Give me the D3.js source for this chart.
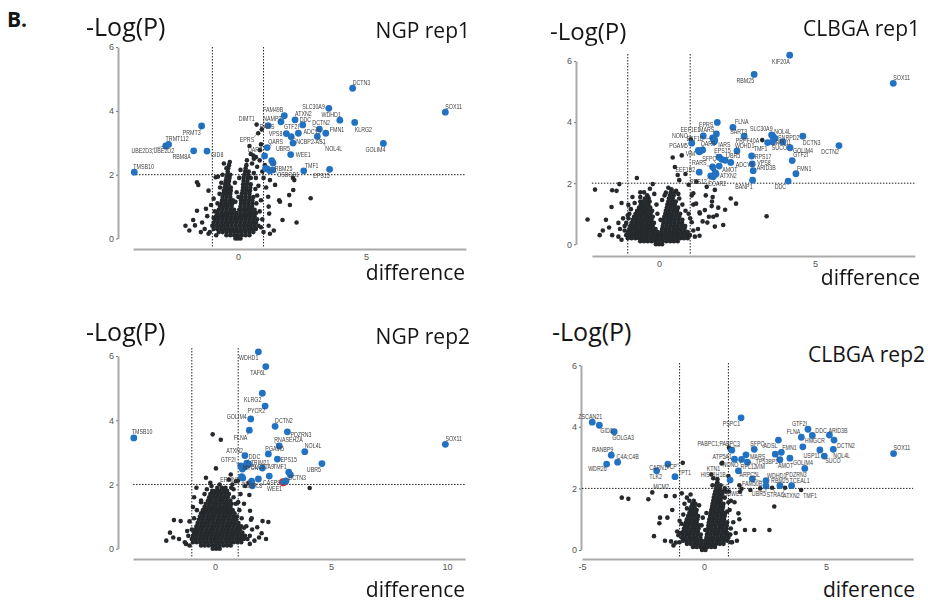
<!DOCTYPE html>
<html>
<head>
<meta charset="utf-8">
<script src="https://cdn.jsdelivr.net/npm/d3@7"></script>
<style>
    body { margin: 0; background: #fff; }
    svg { display: block; }
    .big { font-family: "Open Sans", "Noto Sans", sans-serif; fill: #151515; }
    .tick text { font-family: "Liberation Sans", Arial, sans-serif; font-size: 9px; fill: #555; }
    .gene { font-family: "Liberation Sans", Arial, sans-serif; font-size: 6.8px; fill: #3c3c3c; }
    .labels { opacity: 0.99; }
</style>
</head>
<body>
<svg id="fig" width="928" height="603"></svg>
<script>
// Cut-offs used in every panel.
const diffCutoffs = [-1, 1];
const logPCutoff = 2;
const yTicks = [0, 2, 4, 6];

// ---------- NGP rep1 ----------
const ngp1XTicks = [0, 5];
// [gene, difference, -log(P)]
const ngp1Blue = [
    ["TMSB10", -4.05, 2.08], ["UBE2D3;UBE2D2", -2.82, 2.90], ["TRMT112", -2.71, 2.95],
    ["PRMT3", -1.42, 3.53], ["RBM8A", -1.73, 2.75], ["GID8", -1.21, 2.74],
    ["DCTN3", 4.48, 4.71], ["SOX11", 8.10, 3.96], ["SLC30A9", 3.55, 4.08],
    ["WDHD1", 3.98, 3.71], ["KLRG2", 4.56, 3.64], ["FAM49B", 1.81, 3.85],
    ["ATXN2", 2.23, 3.72], ["DDC", 2.53, 3.56], ["GTF2I", 1.68, 3.66],
    ["DCTN2", 3.18, 3.43], ["FMN1", 3.43, 3.30], ["ADCY9", 2.36, 3.30],
    ["VPS8", 1.89, 3.29], ["NCBP2-AS1", 2.08, 3.19], ["NOL4L", 3.10, 3.20],
    ["QARS", 1.14, 2.85], ["UBR5", 2.15, 2.99], ["WEE1", 2.06, 2.63],
    ["DARS", 1.04, 2.59], ["GOLIM4", 5.68, 2.98], ["TMF1", 2.57, 2.12],
    ["EPS15", 3.58, 2.17], ["RBM25", 1.32, 2.44], ["OSBOB1", 1.14, 2.18],
    ["NAMPT", 1.18, 3.54],
    ["", 1.37, 2.37], ["", 1.25, 2.12], ["", 1.36, 2.15], ["", 1.08, 2.20]
];
const ngp1BlackNamed = [["DIMT1", 0.73, 3.57], ["RARS", 0.93, 3.42], ["EPRS", 0.79, 3.30]];
// Dense centre of the cloud, row by row: [-log(P), [differences]]
const ngp1CoreRows = [
    [0.0, [-0.1, 0, 0.1]],
    [0.1, [-0.45, -0.3, -0.15, 0, 0.15, 0.3, 0.45]],
    [0.2, [-0.75, -0.6, -0.45, -0.3, -0.15, 0, 0.15, 0.3, 0.45, 0.6]],
    [0.3, [-0.95, -0.8, -0.65, -0.5, -0.35, -0.2, -0.05, 0.1, 0.25, 0.4, 0.55, 0.7]],
    [0.4, [-1.0, -0.85, -0.7, -0.55, -0.4, -0.25, -0.1, 0.05, 0.2, 0.35, 0.5, 0.65, 0.8]],
    [0.5, [-0.95, -0.8, -0.65, -0.5, -0.35, -0.2, -0.05, 0.1, 0.25, 0.4, 0.55, 0.7]],
    [0.6, [-0.9, -0.75, -0.6, -0.45, -0.3, -0.15, 0, 0.15, 0.3, 0.45, 0.6, 0.75]],
    [0.7, [-0.85, -0.7, -0.55, -0.4, -0.25, -0.1, 0.05, 0.2, 0.35, 0.5, 0.65]],
    [0.8, [-0.8, -0.65, -0.5, -0.35, -0.2, -0.05, 0.1, 0.25, 0.4, 0.55, 0.7]],
    [0.9, [-0.75, -0.6, -0.45, -0.3, -0.15, 0.05, 0.2, 0.35, 0.5, 0.65]],
    [1.0, [-0.7, -0.55, -0.4, -0.25, 0.1, 0.25, 0.4, 0.55]],
    [1.1, [-0.65, -0.5, -0.35, -0.22, 0.12, 0.27, 0.42, 0.57]],
    [1.2, [-0.62, -0.48, -0.33, -0.2, 0.12, 0.27, 0.42, 0.56]],
    [1.3, [-0.6, -0.45, -0.3, 0.15, 0.3, 0.45, 0.6]],
    [1.4, [-0.57, -0.43, -0.3, 0.15, 0.3, 0.45]],
    [1.5, [-0.55, -0.42, -0.28, 0.18, 0.32, 0.47]],
    [1.6, [-0.52, -0.4, -0.28, 0.2, 0.33, 0.48]],
    [1.7, [-0.5, -0.37, 0.2, 0.35, 0.5]],
    [1.8, [-0.48, -0.35, 0.22, 0.37]],
    [1.9, [-0.45, -0.33, 0.22, 0.38, 0.5]],
    [2.0, [-0.42, -0.3, 0.25, 0.4]],
    [2.1, [-0.4, 0.28, 0.42]],
    [2.2, [-0.38, 0.3]],
    [2.3, [-0.35, 0.33]],
    [2.45, [0.35]]
];
const ngp1Black = [
    [-0.45, 2.2], [-0.32, 2.4], [0.55, 2.35], [0.5, 2.65], [0.75, 2.25], [0.62, 2.5], [0.85, 2.45],
    [0.6, 2.6], [0.7, 2.55], [0.86, 2.77], [0.9, 2.95], [0.45, 2.9], [0.7, 1.9], [0.8, 1.65], [0.75, 1.35],
    [-1.1, 0.2], [-0.95, 0.65], [-0.9, 0.85], [-0.8, 1.1], [-0.72, 1.4], [-0.65, 1.75], [-0.6, 2.0], [-0.55, 2.35], [-0.1, 1.15], [-0.05, 1.45], [0.02, 1.3], [-0.12, 1.75], [0.68, 1.55], [0.72, 1.1], [0.85, 0.85], [0.9, 0.35], [0.62, 2.05], [0.05, 1.9], [0.1, 2.15],
    [-1.6, 1.76], [-1.55, 1.68], [-1.15, 1.5], [-0.87, 1.92], [-0.78, 1.94], [-1.25, 0.93], [-1.6, 0.87], [-1.75, 0.58], [-1.68, 0.41], [-1.3, 0.3], [-1.45, 0.2], [-1.9, 0.25], [-2.05, 0.4], [-1.2, 0.7], [-0.95, 1.25], [-1.05, 1.05], [-1.4, 0.5], [-0.7, 1.6], [-1.15, 0.15], [-0.85, 0.1],
    [1.18, 1.31], [1.2, 1.0], [1.22, 0.78], [1.64, 1.15], [1.74, 0.58], [2.0, 1.36], [2.03, 1.05], [2.29, 0.5], [2.84, 1.26], [2.2, 1.83], [2.16, 1.52], [1.25, 1.83], [1.45, 1.68], [1.61, 1.2], [1.2, 0.4], [1.4, 0.25], [1.25, 0.15], [1.0, 1.9], [1.1, 1.6], [1.05, 2.3], [0.95, 2.1], [2.15, 1.9], [0.95, 0.6], [1.0, 0.2], [0.9, 1.2]
];

// ---------- CLBGA rep1 ----------
const clbga1XTicks = [0, 5];
const clbga1Blue = [
    ["KIF20A", 4.19, 6.19], ["RBM25", 3.05, 5.56], ["SOX11", 7.51, 5.27],
    ["EPRS", 1.87, 3.99], ["FLNA", 2.37, 3.83], ["MARS", 1.84, 3.61],
    ["SART3", 2.73, 3.54], ["SLC30A9", 3.61, 3.58], ["NOL4L", 3.66, 3.52],
    ["SNRPD2", 3.72, 3.47], ["RPL11", 3.64, 3.36], ["TMF1", 3.48, 3.33],
    ["SUCO", 3.97, 3.35], ["DCTN3", 4.61, 3.54], ["DCTN2", 5.77, 3.23],
    ["GOLIM4", 4.20, 3.16], ["GTF2I", 4.27, 2.74], ["FMN1", 4.39, 2.31],
    ["DDC", 4.14, 2.07], ["WDHD1", 2.50, 3.06], ["UBR5", 2.12, 2.75],
    ["ADCY9", 2.30, 2.68], ["RPS17", 2.97, 2.89], ["VPS8", 2.99, 2.63],
    ["ARID3B", 3.02, 2.41], ["AMOT", 1.93, 2.56], ["ATXN2", 1.83, 2.30],
    ["BANP1", 3.0, 2.10], ["RARS", 1.72, 2.53], ["EEF1E1", 1.42, 3.55],
    ["EEF1D", 1.72, 3.48], ["PGAM5", 1.05, 3.31], ["VIM", 1.29, 3.03],
    ["QARS", 1.40, 3.09], ["IARS", 1.77, 3.36], ["EPS15", 1.93, 2.85],
    ["SFPQ", 2.01, 2.78], ["EEF1B2", 1.29, 2.36], ["RPS12", 1.66, 2.24],
    ["CCAR2", 1.74, 2.21],
    ["", 1.26, 3.07], ["", 1.33, 3.05], ["", 1.79, 3.41], ["", 1.81, 2.34]
];
const clbga1BlackNamed = [["NONO", 1.02, 3.44], ["PRPF40A", 3.31, 3.41]];
const clbga1CoreRows = [
    [0.0, [-0.1, 0, 0.1]],
    [0.1, [-0.6, -0.48, -0.36, -0.24, -0.12, 0, 0.12, 0.24, 0.36, 0.48, 0.6]],
    [0.2, [-1.0, -0.88, -0.76, -0.64, -0.52, -0.4, -0.28, -0.16, -0.04, 0.08, 0.2, 0.32, 0.44, 0.56, 0.68, 0.8, 0.92]],
    [0.3, [-1.05, -0.93, -0.81, -0.69, -0.57, -0.45, -0.33, -0.21, -0.09, 0.03, 0.15, 0.27, 0.39, 0.51, 0.63, 0.75, 0.87, 0.99]],
    [0.4, [-1.0, -0.88, -0.76, -0.64, -0.52, -0.4, -0.28, -0.16, -0.04, 0.08, 0.2, 0.32, 0.44, 0.56, 0.68, 0.8, 0.92]],
    [0.5, [-0.95, -0.83, -0.71, -0.59, -0.47, -0.35, -0.23, -0.11, 0.1, 0.22, 0.34, 0.46, 0.58, 0.7, 0.82]],
    [0.6, [-0.92, -0.8, -0.68, -0.56, -0.44, -0.32, -0.2, 0.12, 0.24, 0.36, 0.48, 0.6, 0.72, 0.84]],
    [0.7, [-0.88, -0.76, -0.64, -0.52, -0.4, -0.28, -0.16, 0.14, 0.26, 0.38, 0.5, 0.62, 0.74]],
    [0.8, [-0.84, -0.72, -0.6, -0.48, -0.36, -0.24, 0.15, 0.27, 0.39, 0.51, 0.63, 0.75]],
    [0.9, [-0.8, -0.68, -0.56, -0.44, -0.32, -0.2, 0.17, 0.29, 0.41, 0.53, 0.65]],
    [1.0, [-0.75, -0.63, -0.51, -0.39, -0.27, 0.2, 0.32, 0.44, 0.56, 0.68]],
    [1.1, [-0.7, -0.58, -0.46, -0.34, -0.22, 0.22, 0.34, 0.46, 0.58]],
    [1.2, [-0.64, -0.52, -0.4, -0.28, 0.25, 0.37, 0.49, 0.61]],
    [1.3, [-0.58, -0.46, -0.34, 0.27, 0.39, 0.51]],
    [1.4, [-0.52, -0.4, -0.3, 0.3, 0.42, 0.54]],
    [1.5, [-0.45, -0.33, 0.32, 0.44]],
    [1.6, [-0.38, 0.35, 0.47]],
    [1.7, [0.38, 0.5]],
    [1.8, [0.4]]
];
const clbga1Black = [
    [-1.3, 0.25], [-1.5, 0.3], [-1.25, 0.5], [1.15, 0.25], [1.3, 0.28], [1.25, 0.5], [1.1, 0.45], [-1.1, 0.45], [-1.05, 0.7], [1.05, 0.72], [0.95, 1.0], [-0.95, 1.0],
    [-1.2, 0.15], [-1.1, 0.6], [-0.98, 0.85], [-0.9, 1.15], [-0.78, 1.35], [-0.6, 1.55], [-0.48, 1.7], [-0.05, 1.0], [0.05, 0.8], [-0.08, 1.3], [0.1, 1.45], [0.75, 1.3], [0.85, 1.1], [1.0, 0.85], [0.62, 1.65], [0.18, 1.6], [-0.15, 1.65],
    [-2.29, 0.81], [-2.05, 1.79], [-1.5, 1.77], [-1.36, 1.75], [-1.27, 1.97], [-0.71, 2.17], [-0.29, 1.82], [-0.2, 1.97], [0.22, 1.69], [0.44, 2.84], [0.73, 2.91], [0.51, 2.53], [0.6, 2.27], [0.65, 2.1], [0.95, 1.95], [1.05, 1.6], [1.1, 1.3], [1.3, 1.05],
    [1.53, 1.88], [1.72, 1.55], [1.9, 1.2], [2.47, 1.33], [2.12, 1.13], [2.06, 0.63], [1.79, 0.58], [1.6, 0.9], [1.4, 0.75], [1.7, 1.4], [1.5, 1.6], [3.45, 0.92], [2.3, 1.5], [1.85, 0.95],
    [1.19, 1.33], [1.1, 1.67], [1.69, 1.25], [1.47, 1.12], [1.31, 1.01], [1.79, 1.78], [1.74, 0.9], [1.55, 0.71],
    [-1.52, 1.22], [-1.2, 1.35], [-0.98, 1.29], [-1.0, 0.95], [-1.15, 0.85], [-1.7, 0.8], [-1.8, 0.45], [-1.9, 0.3], [-1.6, 0.55], [-1.3, 0.7], [-0.85, 1.55], [-0.6, 1.7],
    [1.75, 2.45], [0.85, 2.3], [1.2, 2.05], [0.65, 1.5], [0.55, 1.75], [0.3, 1.85], [-0.35, 1.55], [-0.6, 1.4]
];

// ---------- NGP rep2 ----------
const ngp2XTicks = [0, 5, 10];
const ngp2Blue = [
    ["TMSB10", -3.5, 3.45], ["WDHD1", 1.87, 6.13], ["TAF6L", 2.19, 5.67],
    ["KLRG2", 2.04, 4.84], ["PYCR2", 2.16, 4.44], ["GOLIM4", 1.54, 4.04],
    ["DCTN2", 2.59, 3.81], ["PDZRN3", 3.12, 3.64], ["FLNA", 1.48, 3.69],
    ["RNASEH2A", 2.77, 3.20], ["NOL4L", 3.87, 3.02], ["SOX11", 9.93, 3.25],
    ["PGAM5", 2.30, 2.95], ["ATXN2", 1.29, 2.90], ["DDC", 1.37, 2.66],
    ["EPS15", 2.69, 2.79], ["UBR5", 4.61, 2.65], ["TRIM21", 1.45, 2.64],
    ["GTF2I", 1.11, 2.58], ["SLC30A9", 1.22, 2.55], ["TMF1", 3.18, 2.38],
    ["DCTN3", 3.25, 2.30], ["MYCN", 2.04, 2.51], ["ERLIN1", 1.15, 2.24],
    ["CASP8", 2.94, 2.07], ["WEE1", 3.06, 2.11], ["OSBPL8", 1.58, 2.10],
    ["", 1.61, 1.96], ["", 1.87, 2.17], ["", 1.3, 2.55], ["", 1.18, 2.48],
    ["", 1.38, 2.6], ["", 2.34, 2.26], ["", 1.2, 2.2]
];
const ngp2Outlined = ["CASP8"];
const ngp2BlackNamed = [];
const ngp2CoreRows = [
    [0.0, [-0.1, 0.05, 0.2]],
    [0.1, [-0.6, -0.44, -0.28, -0.12, 0.04, 0.2, 0.36, 0.52, 0.68]],
    [0.2, [-0.95, -0.79, -0.63, -0.47, -0.31, -0.15, 0.01, 0.17, 0.33, 0.49, 0.65, 0.81, 0.97, 1.13]],
    [0.3, [-1.0, -0.84, -0.68, -0.52, -0.36, -0.2, -0.04, 0.12, 0.28, 0.44, 0.6, 0.76, 0.92, 1.08, 1.24, 1.4]],
    [0.4, [-0.95, -0.79, -0.63, -0.47, -0.31, -0.15, 0.01, 0.17, 0.33, 0.49, 0.65, 0.81, 0.97, 1.13, 1.29]],
    [0.5, [-0.9, -0.74, -0.58, -0.42, -0.26, -0.1, 0.06, 0.22, 0.38, 0.54, 0.7, 0.86, 1.02, 1.18]],
    [0.6, [-0.85, -0.69, -0.53, -0.37, -0.21, -0.05, 0.11, 0.27, 0.43, 0.59, 0.75, 0.91, 1.07]],
    [0.7, [-0.8, -0.64, -0.48, -0.32, -0.16, 0, 0.16, 0.32, 0.48, 0.64, 0.8, 0.96, 1.12]],
    [0.8, [-0.75, -0.59, -0.43, -0.27, -0.11, 0.05, 0.21, 0.37, 0.53, 0.69, 0.85, 1.01]],
    [0.9, [-0.7, -0.54, -0.38, -0.22, -0.06, 0.1, 0.26, 0.42, 0.58, 0.74, 0.9]],
    [1.0, [-0.65, -0.49, -0.33, -0.17, -0.01, 0.15, 0.31, 0.47, 0.63, 0.79, 0.95]],
    [1.1, [-0.6, -0.44, -0.28, -0.12, 0.04, 0.2, 0.36, 0.52, 0.68, 0.84]],
    [1.2, [-0.52, -0.36, -0.2, -0.04, 0.12, 0.28, 0.44, 0.6, 0.76]],
    [1.3, [-0.45, -0.29, -0.13, 0.03, 0.19, 0.35, 0.51, 0.67]],
    [1.4, [-0.4, -0.24, -0.08, 0.08, 0.24, 0.4, 0.56, 0.72]],
    [1.5, [-0.3, -0.14, 0.02, 0.18, 0.34, 0.5, 0.66]],
    [1.6, [-0.25, -0.09, 0.07, 0.23, 0.39, 0.55]],
    [1.7, [-0.2, -0.04, 0.12, 0.28, 0.44, 0.6]],
    [1.8, [-0.12, 0.04, 0.2, 0.36, 0.52]],
    [1.9, [0.1, 0.3, 0.45]],
    [2.0, [0.2]]
];
const ngp2Black = [
    [-0.1, 3.56], [0.25, 3.39], [0.04, 2.5], [0.68, 2.31], [-0.39, 2.21], [-0.2, 2.05], [0.6, 2.15], [0.9, 2.1], [0.75, 2.0], [1.0, 2.12], [0.8, 1.85], [-0.15, 1.95],
    [-1.1, 0.1], [-1.0, 0.6], [-0.9, 0.95], [-0.78, 1.2], [-0.6, 1.45], [-0.45, 1.7], [-0.35, 1.85], [1.25, 0.65], [1.15, 0.95], [1.05, 1.2], [0.9, 1.4], [0.8, 1.6], [0.7, 1.9], [1.5, 0.15],
    [-1.94, 0.5], [-1.77, 0.89], [-1.48, 0.86], [-1.8, 0.35], [-1.55, 0.3], [-1.3, 0.2], [-1.2, 0.55], [-1.1, 0.85], [-0.95, 1.3], [-0.9, 1.6], [-0.8, 1.9], [-0.6, 1.5], [-1.25, 0.15], [-2.1, 0.25], [-1.15, 0.4],
    [4.08, 1.89], [2.3, 0.83], [2.05, 0.86], [1.82, 0.67], [2.01, 0.48], [1.9, 0.35], [1.55, 0.9], [1.51, 1.18], [1.48, 1.67], [1.6, 0.6], [1.7, 0.25], [2.2, 0.3], [1.25, 1.4], [1.1, 1.7], [1.3, 1.95], [1.45, 2.05], [1.0, 1.45], [1.58, 0.95], [1.35, 0.7], [1.5, 0.4]
];

// ---------- CLBGA rep2 ----------
const clbga2XTicks = [-5, 0, 5];
const clbga2Blue = [
    ["ZSCAN21", -4.58, 4.15], ["GID8", -4.29, 4.05], ["GOLGA3", -3.68, 3.84],
    ["RANBP9", -3.80, 3.08], ["C4A;C4B", -3.54, 2.85], ["WDR26", -3.99, 2.79],
    ["TLK2", -1.94, 2.57], ["CAPN1", -1.48, 2.79], ["TPT1", -1.19, 2.38],
    ["PSPC1", 1.52, 4.29], ["GTF2I", 4.26, 3.92], ["DDC", 4.44, 3.72],
    ["ARID3B", 5.14, 3.73], ["FLNA", 3.99, 3.66], ["DCTN2", 5.33, 3.57],
    ["HMGCR", 4.05, 3.35], ["SOX11", 7.77, 3.13], ["SFPQ", 2.06, 3.27],
    ["ADSL", 3.05, 3.57], ["FMN1", 3.17, 3.17], ["USP11", 4.75, 3.25],
    ["NOL4L", 5.30, 3.27], ["SUCO", 4.93, 3.05], ["MARS", 1.72, 3.09],
    ["TP53BP2", 2.92, 3.11], ["AMOT", 3.11, 2.93], ["GOLIM4", 3.52, 2.98],
    ["PDZRN3", 4.13, 2.65], ["WDHD1", 2.54, 2.25], ["RBM25", 3.11, 2.09],
    ["TCEAL1", 3.59, 2.09], ["UBR5", 2.54, 2.08], ["FAM50B", 1.98, 2.31],
    ["RPL12", 1.54, 2.94], ["VIM", 1.78, 2.85], ["NONO", 1.25, 2.95],
    ["ATP5A1", 1.14, 3.24], ["ARPC5L", 1.41, 2.57],
    ["", 1.07, 2.27]
];
const clbga2BlackNamed = [
    ["MCM2", -2.12, 1.87], ["VCP", -0.87, 2.83], ["PABPC1;PABPC3", 1.02, 3.32],
    ["KTN1", 0.75, 2.83], ["HIST1H1B", 0.38, 2.33], ["EEF1G", 0.52, 2.13],
    ["HUWE1", 1.54, 1.99], ["TMF1", 3.98, 1.95], ["ATXN2", 3.32, 2.02],
    ["STRA6", 2.79, 2.02]
];
const clbga2CoreRows = [
    [0.0, [-0.08, 0.06]],
    [0.1, [-0.45, -0.3, -0.15, 0, 0.15, 0.3, 0.45]],
    [0.2, [-0.7, -0.55, -0.4, -0.25, -0.1, 0.05, 0.2, 0.35, 0.5, 0.65, 0.8]],
    [0.3, [-0.85, -0.7, -0.55, -0.4, -0.25, -0.1, 0.05, 0.2, 0.35, 0.5, 0.65, 0.8, 0.95]],
    [0.4, [-0.9, -0.75, -0.6, -0.45, -0.3, -0.15, 0.1, 0.25, 0.4, 0.55, 0.7, 0.85, 1.0]],
    [0.5, [-0.88, -0.73, -0.58, -0.43, -0.28, -0.13, 0.12, 0.27, 0.42, 0.57, 0.72, 0.87, 1.02]],
    [0.6, [-0.85, -0.7, -0.55, -0.4, -0.25, 0.15, 0.3, 0.45, 0.6, 0.75, 0.9]],
    [0.7, [-0.82, -0.67, -0.52, -0.37, -0.22, 0.17, 0.32, 0.47, 0.62, 0.77, 0.92]],
    [0.8, [-0.78, -0.63, -0.48, -0.33, -0.2, 0.18, 0.33, 0.48, 0.63, 0.78, 0.93]],
    [0.9, [-0.74, -0.59, -0.44, -0.3, 0.2, 0.35, 0.5, 0.65, 0.8, 0.95]],
    [1.0, [-0.7, -0.55, -0.4, -0.27, 0.22, 0.37, 0.52, 0.67, 0.82]],
    [1.1, [-0.65, -0.5, -0.36, -0.24, 0.25, 0.4, 0.55, 0.7, 0.85]],
    [1.2, [-0.6, -0.46, -0.33, 0.27, 0.42, 0.57, 0.72, 0.87]],
    [1.3, [-0.56, -0.42, -0.3, 0.3, 0.45, 0.6, 0.75]],
    [1.4, [-0.52, -0.38, 0.33, 0.48, 0.63, 0.78]],
    [1.5, [-0.48, -0.35, 0.35, 0.5, 0.65, 0.8]],
    [1.6, [-0.42, 0.38, 0.53, 0.68]],
    [1.7, [0.4, 0.55, 0.7, 0.85]],
    [1.8, [0.43, 0.58, 0.73]],
    [1.9, [0.46, 0.61, 0.76]],
    [2.0, [0.5, 0.65]],
    [2.1, [0.52, 0.68]],
    [2.2, [0.55]]
];
const clbga2Black = [
    [-1.15, 0.24], [-1.35, 0.28], [1.15, 0.25], [1.35, 0.3], [-1.05, 0.48], [1.08, 0.5],
    [-1.0, 0.25], [-0.98, 0.55], [-0.92, 0.85], [-0.85, 1.15], [-0.7, 1.35], [-0.6, 1.6], [-0.55, 1.8], [-0.1, 0.8], [0.05, 0.65], [-0.05, 1.05], [0.1, 1.2], [-0.2, 1.45], [0.95, 1.25], [1.0, 1.55], [0.85, 2.0], [0.35, 2.1], [1.1, 0.7],
    [-3.37, 1.7], [-3.1, 1.66], [-2.28, 1.65], [-2.05, 0.45], [-1.83, 0.87], [-1.8, 1.05], [-1.56, 1.75], [-1.5, 1.05], [-1.3, 1.3], [-1.2, 1.75], [-0.91, 1.84], [-1.0, 0.95], [-1.1, 0.6], [-1.6, 0.3], [-1.25, 0.15], [-0.8, 1.5], [-0.7, 1.7],
    [0.3, 2.45], [0.55, 2.3], [1.0, 2.4], [0.72, 2.81], [1.02, 1.9], [1.1, 1.6], [1.05, 1.3], [0.95, 0.5], [1.2, 0.9], [1.3, 0.55], [1.1, 0.25], [0.9, 1.9],
    [1.68, 0.65], [2.06, 0.65], [2.68, 0.65], [2.88, 1.41], [1.41, 1.19], [1.45, 1.0], [1.25, 1.55], [1.45, 2.1], [1.9, 1.95], [2.3, 2.0], [1.48, 1.89]
];

// ---------- layout (pixels) ----------
// Label offsets from each point: [dx, dy, anchor] with s = start, e = end, m = middle.
const ngp1BlueLab = [
    [-1, -6, "s"], [-13, 5, "m"], [-3, -5.5, "s"], [-1, 7, "e"], [-3, 6, "e"], [4, 4, "s"],
    [0, -6, "s"], [0, -6, "s"], [-4, -2, "e"], [1, -6, "e"], [0, 7, "s"], [-1, -6, "e"],
    [0, -6, "s"], [-3, -5, "s"], [3, 5, "s"], [-7, -6, "s"], [4, -4, "s"], [5, -2, "s"],
    [-4, 0, "e"], [5, 5, "s"], [8, 12, "s"], [1, -6, "s"], [-3, 5, "e"], [5, 0, "s"],
    [-2, -6, "e"], [2, 6, "e"], [1, -5, "s"], [0, 6, "e"], [3, 8, "s"], [10, 6, "s"],
    [-5, -7, "s"]
];
const ngp1BlackLab = [[-2, -6, "e"], [-2, -3, "s"], [-4, 6, "e"]];

const clbga1BlueLab = [
    [0, 6, "e"], [0, 6, "e"], [0, -6, "s"], [-4, 2, "e"], [2, -6, "s"], [-2, -4, "e"],
    [3, -5, "e"], [1, -6, "e"], [1, -5, "s"], [3, -1, "s"], [3, 1, "s"], [0, 6, "e"],
    [-11, 6, "s"], [0, 6, "s"], [0, 5.5, "e"], [3, 2.5, "s"], [1, -6, "s"], [1, -5, "s"],
    [-2, 6, "e"], [-2, -5, "s"], [1, -5, "s"], [5, 2, "s"], [3, 0.5, "s"], [5, -1, "s"],
    [3.5, -3, "s"], [3, 4, "s"], [4, 2, "s"], [0, 6, "e"], [-6, -4, "e"], [-3, -6, "e"],
    [-9, 1, "e"], [-4, 2, "e"], [-4, 2, "e"], [-2, -6, "s"], [4, 3, "s"], [-5, -7, "s"],
    [-5, -1, "e"], [-4, -3, "e"], [-4, 6, "e"], [-5, 7, "s"]
];
const clbga1BlackLab = [[-3, -4, "e"], [-3, 0, "e"]];

const ngp2BlueLab = [
    [-2, -6, "s"], [0, 6, "e"], [0, 6, "e"], [-1, 6, "e"], [0, 5, "e"], [-4, -2, "e"],
    [0, -6, "s"], [3, 3, "s"], [-2, 7, "e"], [-5, -6, "s"], [0, -6, "s"], [0, -6, "s"],
    [-3, -5, "s"], [-2, -5, "e"], [2, -7, "s"], [3, 1, "s"], [-1, 6, "e"], [2, -1.5, "s"],
    [-5, -6, "e"], [8, 0, "s"], [-2, -6, "e"], [-2, 3, "s"], [-4, 0, "e"], [-3, 3, "e"],
    [-3, 0, "e"], [-4, 8, "e"], [-10, 4, "s"]
];
const ngp2BlackLab = [];

const clbga2BlueLab = [
    [-2, -6, "m"], [1, 5, "s"], [-2, 6, "s"], [2, -6, "e"], [-1, -6, "s"], [0, 5, "e"],
    [-1, 6, "m"], [-1, 3.5, "e"], [3, -4, "s"], [-1, 6, "e"], [-1, -6, "e"], [3, -5, "s"],
    [-1, -5, "s"], [-1, -6, "e"], [3, 6, "s"], [2, -6, "s"], [0, -6, "s"], [-4, -6, "s"],
    [-1, 6, "e"], [1, -5, "s"], [0, 6, "e"], [0, 6, "s"], [1, 5, "s"], [4, 2, "s"],
    [3, 7, "e"], [-2, 6, "s"], [3, 4, "s"], [2, 6, "e"], [1, -5, "s"], [0, -5, "m"],
    [-2, -5, "s"], [0, 8, "e"], [10, 5, "e"], [-1, 7, "s"], [8, 4, "s"], [4, 5, "e"],
    [0, 6, "e"], [1, 4, "s"]
];
const clbga2BlackLab = [
    [1, -6, "s"], [-6, 4, "e"], [11, -4, "e"], [-2, 6, "e"], [0, -4, "m"], [4, 2, "m"],
    [1, 5, "e"], [2, 6, "s"], [-2, 8, "s"], [3, 7, "m"]
];

const panels = [
    {
        blue: ngp1Blue, blueLab: ngp1BlueLab, named: ngp1BlackNamed, namedLab: ngp1BlackLab,
        core: ngp1CoreRows, black: ngp1Black, outlined: [], xTicks: ngp1XTicks,
        xDomain: [-4.1, 8.9], xRange: [133, 465.8], yRange: [238.5, 47.1],
        yAxisX: 118, xAxisY: 249, vTop: 47,
        ylab: [86, 36, 25], title: ["NGP rep1", 470, 38], xlab: ["difference", 465, 280]
    },
    {
        blue: clbga1Blue, blueLab: clbga1BlueLab, named: clbga1BlackNamed, namedLab: clbga1BlackLab,
        core: clbga1CoreRows, black: clbga1Black, outlined: [], xTicks: clbga1XTicks,
        xDomain: [-2.15, 8.2], xRange: [591.9, 914.8], yRange: [244.3, 61],
        yAxisX: 576, xAxisY: 256, vTop: 54,
        ylab: [550, 40, 24], title: ["CLBGA rep1", 920, 36], xlab: ["difference", 920, 285]
    },
    {
        blue: ngp2Blue, blueLab: ngp2BlueLab, named: ngp2BlackNamed, namedLab: ngp2BlackLab,
        core: ngp2CoreRows, black: ngp2Black, outlined: ngp2Outlined, xTicks: ngp2XTicks,
        xDomain: [-3.53, 10.78], xRange: [133.1, 465.1], yRange: [548.7, 356],
        yAxisX: 118, xAxisY: 559, vTop: 348,
        ylab: [86, 341, 25], title: ["NGP rep2", 470, 344], xlab: ["difference", 465, 597]
    },
    {
        blue: clbga2Blue, blueLab: clbga2BlueLab, named: clbga2BlackNamed, namedLab: clbga2BlackLab,
        core: clbga2CoreRows, black: clbga2Black, outlined: [], xTicks: clbga2XTicks,
        xDomain: [-5, 8.57], xRange: [582, 913.1], yRange: [550, 365.2],
        yAxisX: 581, xAxisY: 559, vTop: 363,
        ylab: [552, 341, 25], title: ["CLBGA rep2", 925, 362], xlab: ["diference", 915, 597]
    }
];

const svg = d3.select("#fig");

svg.append("text").attr("class", "big")
    .attr("x", 7).attr("y", 27)
    .style("font-size", "21px").style("font-weight", "bold")
    .text("B.");

function addLabels(g, rows, labs, x, y) {
    rows.forEach((r, i) => {
        if (!r[0] || !labs[i]) return;
        const [dx, dy, a] = labs[i];
        const px = x(r[1]), py = y(r[2]);
        const lx = px + dx, ly = py + dy;
        // Leader line for labels that sit away from their dot.
        if (Math.hypot(dx, dy) > 7) {
            const ey = dy < -3 ? ly + 2.5 : (dy > 3 ? ly - 2.5 : ly);
            g.append("line")
                .attr("x1", px).attr("y1", py)
                .attr("x2", lx).attr("y2", ey)
                .attr("stroke", "#444").attr("stroke-width", 0.5);
        }
        // Narrow the label a little, like the condensed face in the figure.
        g.append("text").attr("class", "gene")
            .attr("transform", "translate(" + lx + "," + ly + ") scale(0.78,1)")
            .attr("dy", "0.35em")
            .attr("text-anchor", a === "s" ? "start" : (a === "e" ? "end" : "middle"))
            .text(r[0]);
    });
}

function drawPanel(p) {
    const g = svg.append("g");
    const x = d3.scaleLinear().domain(p.xDomain).range(p.xRange);
    const y = d3.scaleLinear().domain([0, 6]).range(p.yRange);

    // Y axis.
    const yAx = g.append("g")
        .attr("transform", "translate(" + p.yAxisX + ",0)")
        .call(d3.axisLeft(y).tickValues(yTicks).tickSize(2).tickSizeOuter(0).tickPadding(2)
            .tickFormat(d3.format("d")));
    yAx.select(".domain").attr("stroke", "#a9a9a9").attr("stroke-width", 2);
    yAx.selectAll(".tick line").attr("stroke", "#777");

    // X axis.
    const xAx = g.append("g")
        .attr("transform", "translate(0," + p.xAxisY + ")")
        .call(d3.axisBottom(x).tickValues(p.xTicks).tickSize(0).tickSizeOuter(0).tickPadding(5)
            .tickFormat(d => String(d)));
    xAx.select(".domain").attr("stroke", "#a9a9a9").attr("stroke-width", 2);

    // Cut-off lines.
    g.selectAll(".vcut").data(diffCutoffs).enter().append("line")
        .attr("x1", d => x(d)).attr("x2", d => x(d))
        .attr("y1", p.vTop).attr("y2", p.xAxisY - 1)
        .attr("stroke", "#222").attr("stroke-width", 1).attr("stroke-dasharray", "1.5,1.5");
    g.append("line")
        .attr("x1", p.xRange[0]).attr("x2", p.xRange[1])
        .attr("y1", y(logPCutoff)).attr("y2", y(logPCutoff))
        .attr("stroke", "#222").attr("stroke-width", 1).attr("stroke-dasharray", "1.5,1.5");

    // Non-significant dots: dense centre rows, scattered ones, labelled ones.
    const coreDots = [];
    p.core.forEach(row => row[1].forEach(v => coreDots.push([v, row[0]])));
    const blackDots = coreDots.concat(p.black, p.named.map(d => [d[1], d[2]]));
    g.append("g").selectAll("circle")
        .data(blackDots)
        .enter().append("circle")
        .attr("cx", d => x(d[0])).attr("cy", d => y(d[1]))
        .attr("r", 2.3).attr("fill", "#26292c");

    // Significant blue dots.
    g.append("g").selectAll("circle")
        .data(p.blue)
        .enter().append("circle")
        .attr("cx", d => x(d[1])).attr("cy", d => y(d[2]))
        .attr("r", 3.4).attr("fill", "#2272c3")
        .attr("stroke", d => p.outlined.includes(d[0]) ? "#e3262c" : "none")
        .attr("stroke-width", 1.2);

    const lg = g.append("g").attr("class", "labels");
    addLabels(lg, p.blue, p.blueLab, x, y);
    addLabels(lg, p.named, p.namedLab, x, y);

    // Big titles.
    g.append("text").attr("class", "big")
        .attr("x", p.ylab[0]).attr("y", p.ylab[1])
        .style("font-size", p.ylab[2] + "px")
        .text("-Log(P)");
    g.append("text").attr("class", "big")
        .attr("x", p.title[1]).attr("y", p.title[2])
        .attr("text-anchor", "end").style("font-size", "21px")
        .text(p.title[0]);
    g.append("text").attr("class", "big")
        .attr("x", p.xlab[1]).attr("y", p.xlab[2])
        .attr("text-anchor", "end").style("font-size", "21px")
        .text(p.xlab[0]);
}

panels.forEach(drawPanel);
</script>
</body>
</html>
